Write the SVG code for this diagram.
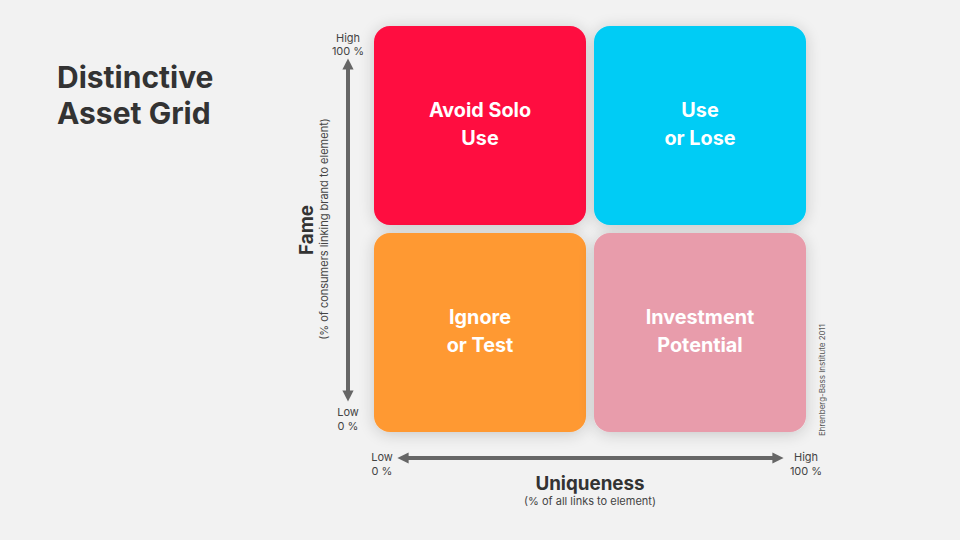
<svg xmlns="http://www.w3.org/2000/svg" width="960" height="540" viewBox="0 0 960 540">
<defs>
<style>
.t{font-family:Inter,"Noto Sans","Liberation Sans",sans-serif;}
.box-label{font-size:19.8px;font-weight:700;fill:#ffffff;text-anchor:middle;}
.tick{font-size:11px;fill:#444;text-anchor:middle;}
.axis-title{font-size:18.8px;font-weight:700;fill:#333;text-anchor:middle;}
.axis-sub{font-size:11px;fill:#444;text-anchor:middle;}
.axis{stroke:#666;stroke-width:4;fill:none;}
</style>
<filter id="sh" x="-20%" y="-20%" width="140%" height="140%">
<feGaussianBlur in="SourceAlpha" stdDeviation="8"/>
<feOffset dx="0" dy="2"/>
<feComponentTransfer><feFuncA type="linear" slope="0.18"/></feComponentTransfer>
<feMerge><feMergeNode/><feMergeNode in="SourceGraphic"/></feMerge>
</filter>
<marker id="ah" viewBox="0 0 10 10" refX="5" refY="5" markerWidth="2.8" markerHeight="2.8" orient="auto-start-reverse">
<path d="M0,0 L10,5 L0,10 z" fill="#666"/>
</marker>
</defs>
<rect width="960" height="540" fill="#f2f2f2"/>
<g id="title" class="t"><text x="57" y="88" font-size="30" font-weight="700" fill="#333">Distinctive</text><text x="57" y="124" font-size="30" font-weight="700" fill="#333">Asset Grid</text></g>
<g id="avoid-solo-use"><rect x="374" y="26" width="212" height="199" rx="16" fill="#ff0a3f" filter="url(#sh)"/><text class="t box-label" x="480" y="117">Avoid Solo</text><text class="t box-label" x="480" y="145">Use</text></g>
<g id="use-or-lose"><rect x="594" y="26" width="212" height="199" rx="16" fill="#00ccf5" filter="url(#sh)"/><text class="t box-label" x="700" y="117">Use</text><text class="t box-label" x="700" y="145">or Lose</text></g>
<g id="ignore-or-test"><rect x="374" y="233" width="212" height="199" rx="16" fill="#ff9933" filter="url(#sh)"/><text class="t box-label" x="480" y="324">Ignore</text><text class="t box-label" x="480" y="352">or Test</text></g>
<g id="investment-potential"><rect x="594" y="233" width="212" height="199" rx="16" fill="#e89cab" filter="url(#sh)"/><text class="t box-label" x="700" y="324">Investment</text><text class="t box-label" x="700" y="352">Potential</text></g>
<g id="connectors">
<line class="axis" x1="348" y1="64" x2="348" y2="396" marker-start="url(#ah)" marker-end="url(#ah)"/>
<line class="axis" x1="403" y1="458" x2="778" y2="458" marker-start="url(#ah)" marker-end="url(#ah)"/>
</g>
<g id="fame-axis" class="t">
<text class="tick" x="348" y="42">High</text><text class="tick" x="348" y="55">100 %</text>
<text class="tick" x="348" y="416">Low</text><text class="tick" x="348" y="430">0 %</text>
<text class="axis-title" transform="translate(313,230) rotate(-90)">Fame</text>
<text class="axis-sub" transform="translate(328,229) rotate(-90)">(% of consumers linking brand to element)</text>
</g>
<g id="uniqueness-axis" class="t">
<text class="tick" x="382" y="461">Low</text><text class="tick" x="382" y="475">0 %</text>
<text class="tick" x="806" y="461">High</text><text class="tick" x="806" y="475">100 %</text>
<text class="axis-title" x="590" y="490">Uniqueness</text>
<text class="axis-sub" x="590" y="505">(% of all links to element)</text>
</g>
<text class="t" transform="translate(825,380) rotate(-90)" font-size="8" fill="#555" text-anchor="middle">Ehrenberg-Bass Institute 2011</text>
</svg>
